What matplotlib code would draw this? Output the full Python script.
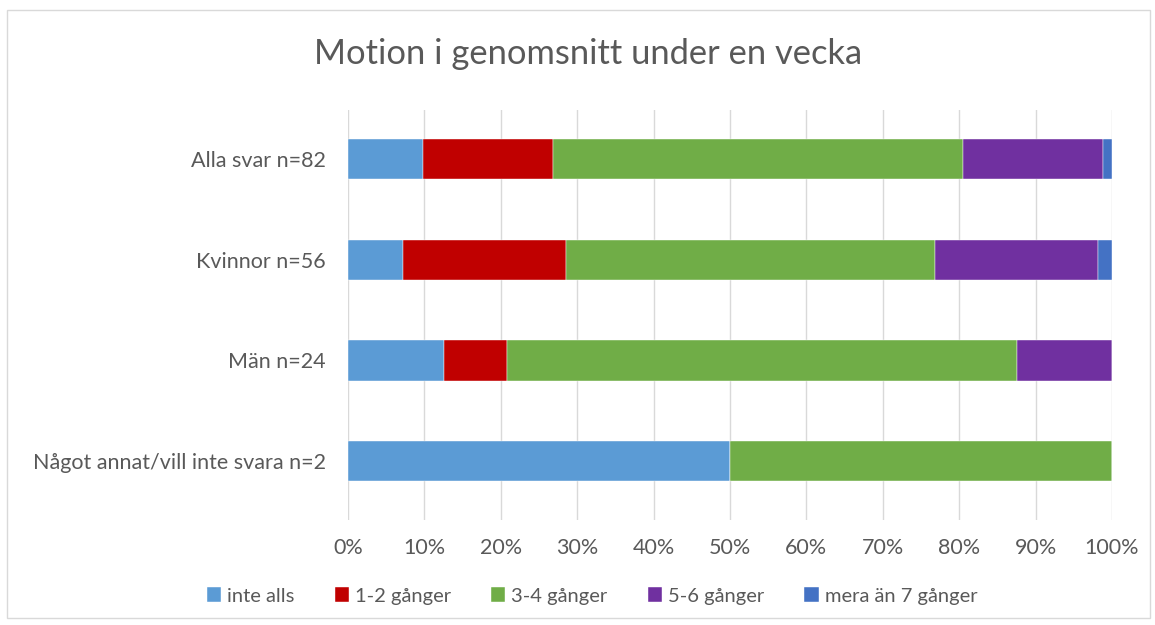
import matplotlib
matplotlib.use("Agg")
import matplotlib.pyplot as plt
from matplotlib.patches import Rectangle
import numpy as np

plt.rcParams['font.family'] = ['Lato', 'DejaVu Sans']

categories = ["Alla svar n=82", "Kvinnor n=56", "Män n=24", "Något annat/vill inte svara n=2"]
series_names = ["inte alls", "1-2 gånger", "3-4 gånger", "5-6 gånger", "mera än 7 gånger"]
inte_alls = [9.76, 7.14, 12.5, 50.0]
ggr_1_2 = [17.07, 21.43, 8.33, 0.0]
ggr_3_4 = [53.66, 48.21, 66.67, 50.0]
ggr_5_6 = [18.29, 21.43, 12.5, 0.0]
mera_7 = [1.22, 1.79, 0.0, 0.0]
colors = ["#5B9BD5", "#C00000", "#70AD47", "#7030A0", "#4472C4"]
xticks = [0, 10, 20, 30, 40, 50, 60, 70, 80, 90, 100]

series = [inte_alls, ggr_1_2, ggr_3_4, ggr_5_6, mera_7]
text_color = "#595959"

fig = plt.figure(figsize=(11.55, 6.25), dpi=100)
fig.patches.append(Rectangle((7/1155, 1-618/625), 1143/1155, 608/625, transform=fig.transFigure,
                             fill=False, edgecolor="#D9D9D9", lw=1.0))
ax = fig.add_axes([348/1155, 1-520/625, 764/1155, 410/625])

ypos = np.arange(len(categories))[::-1]
left = np.zeros(len(categories))
for name, vals, c in zip(series_names, series, colors):
    vals = np.array(vals)
    ax.barh(ypos, vals, left=left, height=0.4, color=c, label=name,
            edgecolor="white", linewidth=0.3)
    left += vals

ax.set_xlim(0, 100)
ax.set_ylim(-0.585, 3.487)
ax.set_xticks(xticks)
ax.set_xticklabels([f"{t}%" for t in xticks])
ax.set_yticks(ypos)
ax.set_yticklabels(categories)
ax.tick_params(axis='both', length=0, colors=text_color, labelsize=15.5)
ax.tick_params(axis='x', pad=13)
ax.tick_params(axis='y', pad=16)
ax.grid(axis='x', color="#D9D9D9", lw=1.0)
ax.set_axisbelow(True)
for s in ax.spines.values():
    s.set_visible(False)

fig.text(588/1155, 1-54/625, "Motion i genomsnitt under en vecka", ha='center', va='center',
         fontsize=24.8, color=text_color)

handles, labels = ax.get_legend_handles_labels()
leg = fig.legend(handles, labels, loc='center', bbox_to_anchor=(592/1155, 1-596/625), ncol=5,
                 frameon=False, fontsize=14.5, handlelength=0.7, handleheight=0.7,
                 handletextpad=0.3, columnspacing=2.0, labelcolor=text_color)

fig.savefig("out.png", dpi=100)
